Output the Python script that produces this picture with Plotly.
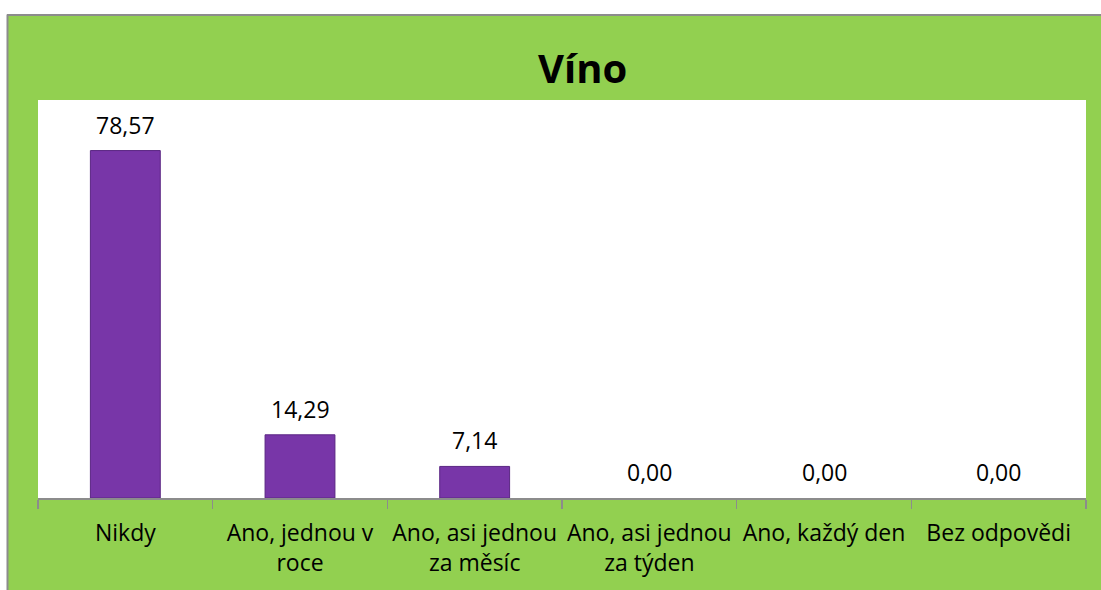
import plotly.graph_objects as go

categories = ["Nikdy", "Ano, jednou v<br>roce", "Ano, asi jednou<br>za měsíc",
              "Ano, asi jednou<br>za týden", "Ano, každý den", "Bez odpovědi"]
values = [78.57, 14.29, 7.14, 0.00, 0.00, 0.00]
labels = ["78,57", "14,29", "7,14", "0,00", "0,00", "0,00"]
title_text = "Víno"

GREEN = "#92D050"
PURPLE = "#7836A8"
FONT = "Open Sans"

W, H = 1101, 590
L, R, T, B = 38, 15, 100, 90
pw, ph = W - L - R, H - T - B


def px_x(x):
    return (x - L) / pw


def px_y(y):
    return (H - B - y) / ph


fig = go.Figure()
fig.add_trace(go.Bar(
    x=categories, y=values, width=0.4,
    marker=dict(color=PURPLE,
                line=dict(color="#5A2683", width=[1 if v > 0 else 0 for v in values])),
    hoverinfo="skip",
))

for c, v, t in zip(categories, values, labels):
    fig.add_annotation(x=c, y=v, text=t, showarrow=False, yanchor="bottom",
                       yshift=8, font=dict(family=FONT, size=23, color="black"))

fig.add_annotation(xref="paper", yref="paper", x=px_x(582), y=px_y(67),
                   text="<b>" + title_text + "</b>", showarrow=False,
                   xanchor="center", yanchor="middle",
                   font=dict(family=FONT, size=40, color="black"))

shapes = [
    dict(type="rect", xref="paper", yref="paper", x0=px_x(-5), x1=px_x(W + 5),
         y0=px_y(-5), y1=px_y(14), fillcolor="white", line=dict(width=0)),
    dict(type="rect", xref="paper", yref="paper", x0=px_x(-5), x1=px_x(7),
         y0=px_y(-5), y1=px_y(H + 5), fillcolor="white", line=dict(width=0)),
    dict(type="line", xref="paper", yref="paper", x0=px_x(7), x1=px_x(W + 5),
         y0=px_y(14.5), y1=px_y(14.5), line=dict(color="#8C8C8C", width=2)),
    dict(type="line", xref="paper", yref="paper", x0=px_x(7.5), x1=px_x(7.5),
         y0=px_y(14), y1=px_y(H + 5), line=dict(color="#8C8C8C", width=2)),
]

fig.update_layout(
    width=W, height=H,
    margin=dict(l=L, r=R, t=T, b=B, pad=0),
    paper_bgcolor=GREEN, plot_bgcolor="white",
    showlegend=False, shapes=shapes,
    xaxis=dict(
        type="category",
        tickson="boundaries", ticks="outside", ticklen=9, tickwidth=1.5,
        tickcolor="#8C8C8C", showline=True, linecolor="#8C8C8C", linewidth=1.5,
        showgrid=False, zeroline=False, ticklabelstandoff=14,
        tickfont=dict(family=FONT, size=23, color="black"),
        fixedrange=True,
    ),
    yaxis=dict(range=[0, 90], showticklabels=False, showgrid=False,
               zeroline=False, showline=False, ticks="", fixedrange=True),
)

fig.write_html("out.html", config={"displayModeBar": False, "staticPlot": True},
               post_script="document.body.style.margin='0';document.body.style.overflow='hidden';")
